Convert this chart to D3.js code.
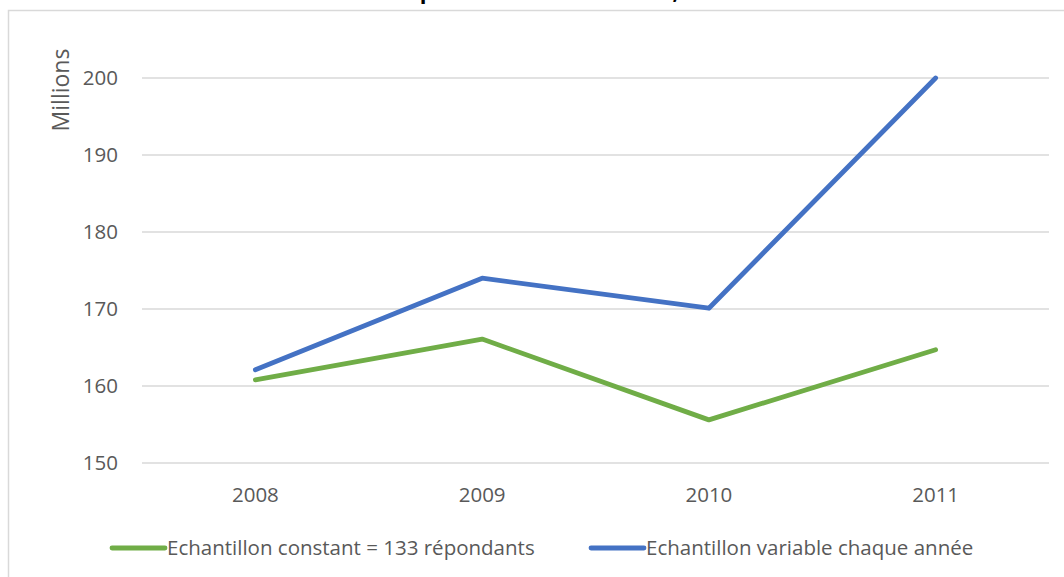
<!DOCTYPE html>
<html>
<head>
<meta charset="utf-8">
<script src="https://cdn.jsdelivr.net/npm/d3@7"></script>
<style>
  body { margin: 0; background: #fff; }
  svg { display: block; font-family: 'Open Sans', 'Liberation Sans', sans-serif; }
</style>
</head>
<body>
<div class="chart-panel"></div>
<script>
const years = ['2008', '2009', '2010', '2011']
const constantSample = [160.8, 166.1, 155.6, 164.7]
const variableSample = [162.1, 174.0, 170.1, 200.0]
const yTicks = [150, 160, 170, 180, 190, 200]
const seriesNames = ['Echantillon constant = 133 répondants', 'Echantillon variable chaque année']
const titleText = 'Montant des prestations de services, en millions'

const width = 1064
const height = 577
const margin = { top: 78, right: 15, bottom: 114, left: 142 }

const svg = d3.select('.chart-panel').append('svg')
  .attr('width', width)
  .attr('height', height)

// chart frame, only top and left edges are visible in the crop
svg.append('path')
  .attr('d', 'M8.5,' + height + 'V10.5H' + width)
  .attr('fill', 'none')
  .attr('stroke', '#d9d9d9')
  .attr('stroke-width', 1.5)

// title sits mostly above the visible area
svg.append('text')
  .attr('x', 540)
  .attr('y', -1)
  .attr('text-anchor', 'middle')
  .attr('font-size', 22)
  .attr('font-weight', 'bold')
  .attr('fill', '#000')
  .text(titleText)

const x = d3.scaleBand()
  .domain(years)
  .range([margin.left, width - margin.right])

const y = d3.scaleLinear()
  .domain([150, 200])
  .range([height - margin.bottom, margin.top])

// gridlines
svg.append('g')
  .selectAll('line')
  .data(yTicks)
  .enter().append('line')
    .attr('x1', margin.left)
    .attr('x2', width - margin.right)
    .attr('y1', function (d) { return y(d) })
    .attr('y2', function (d) { return y(d) })
    .attr('stroke', '#d9d9d9')
    .attr('stroke-width', 1.5)

const yAxis = svg.append('g')
  .attr('transform', 'translate(' + (margin.left - 24) + ',0)')
  .call(d3.axisLeft(y).tickValues(yTicks).tickSize(0).tickPadding(0))
yAxis.select('.domain').remove()
yAxis.selectAll('text')
  .attr('font-size', 20.5)
  .attr('fill', '#595959')
  .attr('font-family', "'Open Sans', sans-serif")

const xAxis = svg.append('g')
  .attr('transform', 'translate(0,' + (height - margin.bottom) + ')')
  .call(d3.axisBottom(x).tickSize(0).tickPadding(24))
xAxis.select('.domain').remove()
xAxis.selectAll('text')
  .attr('font-size', 20.5)
  .attr('fill', '#595959')
  .attr('font-family', "'Open Sans', sans-serif")

svg.append('text')
  .attr('transform', 'translate(69,' + 90 + ') rotate(-90)')
  .attr('text-anchor', 'middle')
  .attr('font-size', 23)
  .attr('fill', '#595959')
  .text('Millions')

const series = [
  { name: seriesNames[0], values: constantSample, color: '#70ad47' },
  { name: seriesNames[1], values: variableSample, color: '#4472c4' },
]

const line = d3.line()
  .x(function (d, i) { return x(years[i]) + x.bandwidth() / 2 })
  .y(function (d) { return y(d) })

svg.selectAll('.series')
  .data(series)
  .enter().append('path')
    .attr('class', 'series')
    .attr('d', function (d) { return line(d.values) })
    .attr('fill', 'none')
    .attr('stroke', function (d) { return d.color })
    .attr('stroke-width', 4.8)
    .attr('stroke-linecap', 'round')
    .attr('stroke-linejoin', 'round')

// legend
const legendX = [112, 591]
const legend = svg.selectAll('.legend')
  .data(series)
  .enter().append('g')
    .attr('class', 'legend')
    .attr('transform', function (d, i) { return 'translate(' + legendX[i] + ',548)' })

legend.append('line')
  .attr('x1', 0)
  .attr('x2', 53)
  .attr('stroke', function (d) { return d.color })
  .attr('stroke-width', 4.8)
  .attr('stroke-linecap', 'round')

legend.append('text')
  .attr('x', 55)
  .attr('dy', '0.35em')
  .attr('font-size', 20.5)
  .attr('fill', '#595959')
  .text(function (d) { return d.name })
</script>
</body>
</html>
